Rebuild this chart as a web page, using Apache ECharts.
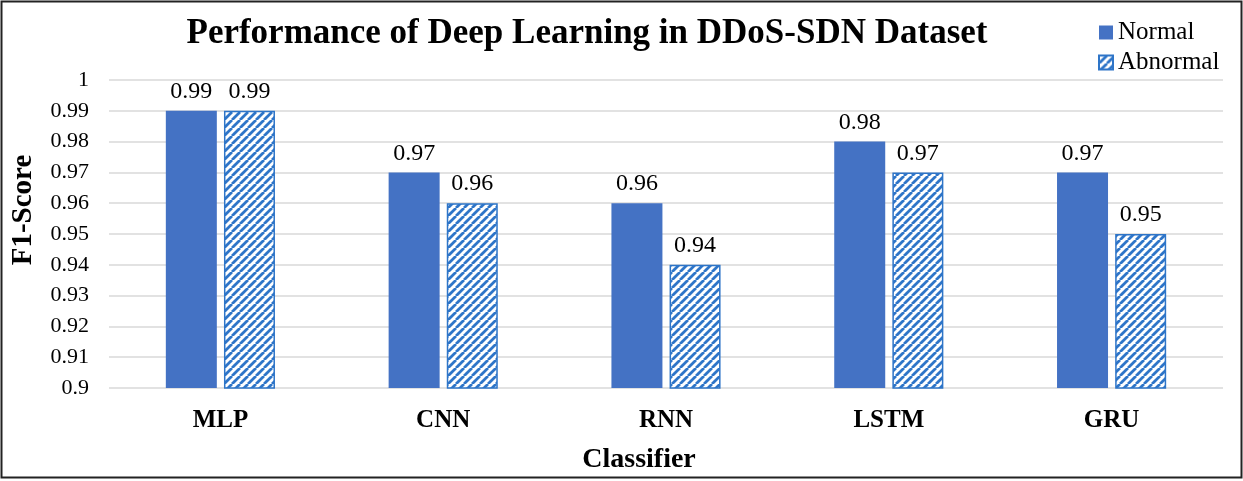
<!DOCTYPE html>
<html>
<head>
<meta charset="utf-8">
<script src="https://cdn.jsdelivr.net/npm/echarts@6/dist/echarts.min.js"></script>
<style>
  html, body { margin: 0; padding: 0; background: #fff; }
  #main { width: 1243px; height: 481px; }
</style>
</head>
<body>
<div id="main"></div>
<script>
// chart data
var categories = ['MLP', 'CNN', 'RNN', 'LSTM', 'GRU'];
var normalScores = [0.99, 0.97, 0.96, 0.98, 0.97];
var abnormalScores = [0.99, 0.96, 0.94, 0.97, 0.95];
var seriesNames = ['Normal', 'Abnormal'];

// diagonal hatch for the Abnormal bars
function makeHatch() {
    var size = 8;
    var c = document.createElement('canvas');
    c.width = size;
    c.height = size;
    var ctx = c.getContext('2d');
    ctx.fillStyle = '#ffffff';
    ctx.fillRect(0, 0, size, size);
    ctx.strokeStyle = '#2E75C8';
    ctx.lineWidth = 2.8;
    ctx.beginPath();
    for (var k = -1; k <= 1; k++) {
        ctx.moveTo(k * size, size);
        ctx.lineTo(k * size + size, 0);
    }
    ctx.stroke();
    return c;
}

var serif = '"Liberation Serif", "Times New Roman", serif';
var myChart = echarts.init(document.getElementById('main'));

var labelStyle = {
    show: true,
    position: 'top',
    distance: 7,
    fontFamily: serif,
    fontSize: 24,
    color: '#000',
    formatter: function (p) { return p.value.toFixed(2); }
};

var option = {
    animation: false,
    backgroundColor: '#fff',
    title: {
        text: 'Performance of Deep Learning in DDoS-SDN Dataset',
        left: 582,
        textAlign: 'center',
        top: 11,
        textStyle: {
            fontFamily: serif,
            fontWeight: 'bold',
            fontSize: 35,
            color: '#000'
        }
    },
    legend: {
        orient: 'vertical',
        left: 1093,
        top: 15,
        icon: 'rect',
        itemWidth: 14,
        itemHeight: 14,
        itemGap: 5,
        data: seriesNames,
        textStyle: {
            fontFamily: serif,
            fontSize: 25,
            color: '#000'
        }
    },
    grid: {
        left: 109,
        right: 20,
        top: 80,
        bottom: 93
    },
    xAxis: {
        type: 'category',
        data: categories,
        name: 'Classifier',
        nameLocation: 'middle',
        nameGap: 58,
        nameTextStyle: {
            fontFamily: serif,
            fontWeight: 'bold',
            fontSize: 28,
            color: '#000',
            padding: [0, 54, 0, 0]
        },
        axisLine: { show: false },
        axisTick: { show: false },
        axisLabel: {
            margin: 20,
            fontFamily: serif,
            fontWeight: 'bold',
            fontSize: 25,
            color: '#000'
        }
    },
    yAxis: {
        type: 'value',
        min: 0.9,
        max: 1,
        interval: 0.01,
        name: 'F1-Score',
        nameLocation: 'middle',
        nameGap: 71,
        nameTextStyle: {
            fontFamily: serif,
            fontWeight: 'bold',
            fontSize: 29,
            color: '#000',
            padding: [0, 0, 0, 48]
        },
        axisLine: { show: false },
        axisTick: { show: false },
        axisLabel: {
            margin: 20,
            fontFamily: serif,
            fontSize: 22,
            color: '#000',
            formatter: function (v) {
                return parseFloat(v.toFixed(2)).toString();
            }
        },
        splitLine: {
            lineStyle: { color: '#D9D9D9', width: 1.5 }
        }
    },
    series: [{
        name: seriesNames[0],
        type: 'bar',
        data: normalScores,
        barWidth: 51,
        barGap: '14%',
        itemStyle: { color: '#4472C4' },
        label: labelStyle
    }, {
        name: seriesNames[1],
        type: 'bar',
        data: abnormalScores,
        barWidth: 51,
        itemStyle: {
            color: { image: makeHatch(), repeat: 'repeat' },
            borderColor: '#2E75C8',
            borderWidth: 1.5
        },
        label: labelStyle
    }],
    graphic: [{
        type: 'rect',
        shape: { x: 1.5, y: 1.5, width: 1240, height: 476 },
        style: { fill: 'none', stroke: '#222', lineWidth: 2 },
        silent: true
    }]
};
myChart.setOption(option);
</script>
</body>
</html>
